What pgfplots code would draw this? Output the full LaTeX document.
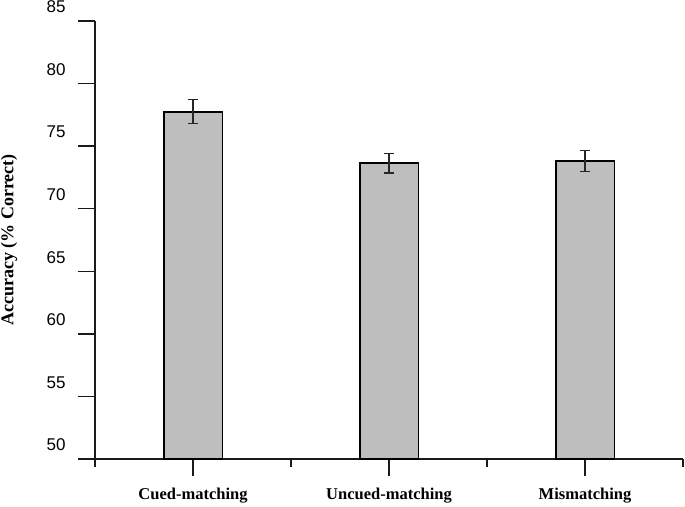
\documentclass[border=0pt]{standalone}
\usepackage{fontspec}
\setmainfont{Liberation Serif}
\newfontfamily\arialfont{Liberation Sans}
\usepackage{pgfplots}
\pgfplotsset{compat=1.18}
\definecolor{barfill}{HTML}{BEBEBE}
\definecolor{errc}{HTML}{262626}
\definecolor{axisc}{HTML}{1A1A1A}
\begin{document}
\begin{tikzpicture}[x=1pt,y=1pt]
\begin{axis}[
  at={(95pt,47pt)}, anchor=south west,
  scale only axis, width=588pt, height=438pt,
  xmin=0, xmax=3, ymin=50, ymax=85,
  axis x line*=bottom, axis y line*=left,
  axis line style={line width=1.3pt, axisc},
  x axis line style={shorten <=-17pt},
  y axis line style={shorten <=-8pt},
  tick align=outside,
  major tick length=17pt, minor tick length=8pt,
  every tick/.style={line width=1.3pt, axisc},
  xtick={0.5,1.5,2.5},
  xticklabels={Cued-matching,Uncued-matching,Mismatching},
  minor xtick={0,1,2,3},
  ytick={50,55,...,85},
  /pgf/number format/assume math mode=true,
  yticklabel style={font=\arialfont\fontsize{17}{17}\selectfont, anchor=east, xshift=-9pt, yshift=14pt},
  xticklabel style={font=\bfseries\fontsize{16.5}{16.5}\selectfont, yshift=-9pt},
  ylabel={Accuracy (\% Correct)},
  ylabel style={font=\bfseries\fontsize{18}{18}\selectfont, at={(axis description cs:-0.1463,0.5)}, anchor=center},
  ybar, bar width=0.3, bar shift=0,
]
\addplot[fill=barfill, draw=black, line width=1.8pt,
  error bars/.cd, y dir=both, y explicit,
  error bar style={line width=1.5pt, errc},
  error mark options={rotate=90, mark size=4.7pt, line width=1.5pt, errc}]
  coordinates {
  (0.5,77.76) +- (0,0.97)
  (1.5,73.64) +- (0,0.77)
  (2.5,73.82) +- (0,0.85)
  };
\end{axis}
\pgfresetboundingbox
\useasboundingbox (0,0) rectangle (685,506);
\end{tikzpicture}
\end{document}
